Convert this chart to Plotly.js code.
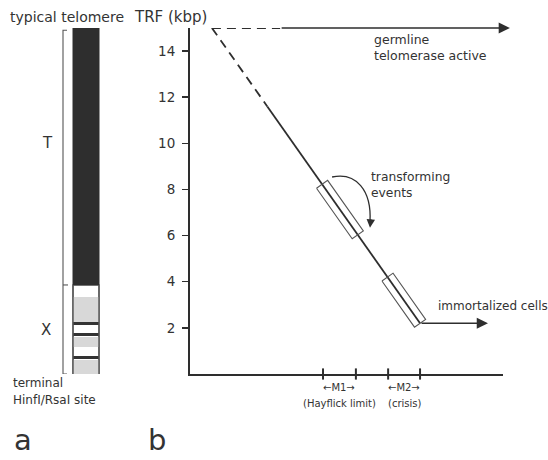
<!DOCTYPE html>
<html>
<head>
<meta charset="utf-8">
<script src="https://cdn.plot.ly/plotly-3.0.1.min.js"></script>
<style>html,body{margin:0;padding:0;background:#fff;}#chart{width:548px;height:460px;}</style>
</head>
<body>
<div id="chart"></div>
<script>
// ---------- data ----------
// panel b: TRF (kbp) vs. cell divisions (arbitrary units)
const yTicks = [2, 4, 6, 8, 10, 12, 14];
const germX = [7, 28.8, 102.2];          // dashed start, solid start, arrow tip
const germY = [15, 15, 15];
const senX = [7, 24.7, 73.5];            // dashed start, solid start, end at M2
const senY = [15, 11.6, 2.2];
const immX = [73.5, 95.2];
const immY = [2.2, 2.2];
const mTicks = [42.5, 53, 63.3, 73.5];   // M1 start/end, M2 start/end
const mLabels = ['\u2190M1\u2192', '\u2190M2\u2192'];
const mSubLabels = ['(Hayflick limit)', '(crisis)'];
const arcX = [45.4, 53.0, 58.1, 57.5];
const arcY = [8.54, 8.76, 7.98, 6.59];

// panel a: typical telomere (kbp)
const tRegion = [3.86, 15];
const xRegion = [0, 3.86];
const grayBandsLo = [2.25, 1.17, 0.0, 1.42, 0.05];
const grayBandsHi = [3.34, 1.60, 0.62, 1.55, 0.55];
const blackLinesLo = [2.12, 1.65, 0.65];
const blackLinesHi = [2.25, 1.78, 0.78];

// ---------- layout helpers ----------
const W = 548, H = 460;
const plotL = 190, plotR = 503, plotT = 28, plotB = 374;
const xRange = [0, 100], yRange = [0, 15];
const sx = (plotR - plotL) / (xRange[1] - xRange[0]);
const sy = (plotB - plotT) / (yRange[1] - yRange[0]);
const px = p => p / W, py = p => 1 - p / H;
const ink = '#2e2e2e', txt = '#333333';
const FONT = 'DejaVu Sans, Arial, sans-serif';

function yOnLine(x) {
  const t = (x - senX[0]) / (senX[2] - senX[0]);
  return senY[0] + t * (senY[2] - senY[0]);
}
function boxPoly(a, b, halfPx) {
  const ya = yOnLine(a), yb = yOnLine(b);
  const dx = (b - a) * sx, dy = -(yb - ya) * sy;
  const L = Math.hypot(dx, dy);
  const nx = -dy / L, ny = dx / L;
  const ox = nx * halfPx / sx, oy = -ny * halfPx / sy;
  return {
    x: [a + ox, b + ox, b - ox, a - ox, a + ox],
    y: [ya + oy, yb + oy, yb - oy, ya - oy, ya + oy]
  };
}

const traces = [];
// germline dashed part
traces.push({x: germX.slice(0, 2), y: germY.slice(0, 2), mode: 'lines', xaxis: 'x', yaxis: 'y',
  line: {color: ink, width: 1.8, dash: '9px,6px'}, hoverinfo: 'skip', cliponaxis: false});
// senescence dashed part
traces.push({x: senX.slice(0, 2), y: senY.slice(0, 2), mode: 'lines', xaxis: 'x', yaxis: 'y',
  line: {color: ink, width: 1.8, dash: '9px,6px'}, hoverinfo: 'skip', cliponaxis: false});
// senescence solid part
traces.push({x: senX.slice(1), y: senY.slice(1), mode: 'lines', xaxis: 'x', yaxis: 'y',
  line: {color: ink, width: 1.8}, hoverinfo: 'skip', cliponaxis: false});
// boxes M1, M2
[[mTicks[0] - 0.3, mTicks[1] + 0.6], [mTicks[2] - 0.2, mTicks[3]]].forEach(([a, b]) => {
  const p = boxPoly(a, b, 6.8);
  traces.push({x: p.x, y: p.y, mode: 'lines', xaxis: 'x', yaxis: 'y',
    line: {color: '#555', width: 1.1}, hoverinfo: 'skip', cliponaxis: false});
});
// x-axis tick marks at M boundaries
traces.push({x: mTicks, y: mTicks.map(() => 0), mode: 'markers', xaxis: 'x', yaxis: 'y',
  marker: {symbol: 'line-ns', size: 8, line: {color: ink, width: 2}}, hoverinfo: 'skip', cliponaxis: false});

// panel a bars (x2 in pixel-like units)
const barX = 86, barW = 26;
function addBars(lo, hi, color, lineColor, lw) {
  traces.push({type: 'bar', xaxis: 'x2', yaxis: 'y', x: lo.map(() => barX), base: lo,
    y: hi.map((h, i) => h - lo[i]), width: lo.map(() => barW),
    marker: {color: color, line: {color: lineColor, width: lw}}, hoverinfo: 'skip', showlegend: false});
}
addBars([xRegion[0]], [xRegion[1]], '#ffffff', '#555', 1.2);
addBars(grayBandsLo, grayBandsHi, '#d8d8d8', 'rgba(0,0,0,0)', 0);
addBars(blackLinesLo, blackLinesHi, '#333', 'rgba(0,0,0,0)', 0);
addBars([tRegion[0]], [tRegion[1]], '#2e2e2e', '#2e2e2e', 1);
// re-draw the X-region side outline
traces.push({x: [barX - barW / 2, barX - barW / 2, null, barX + barW / 2, barX + barW / 2],
  y: [xRegion[0], xRegion[1], null, xRegion[0], xRegion[1]], mode: 'lines', xaxis: 'x2', yaxis: 'y',
  line: {color: '#555', width: 1.4}, hoverinfo: 'skip', connectgaps: false});
// bracket
traces.push({x: [67, 63, 63, 67, null, 63, 68], y: [14.9, 14.9, 0, 0, null, tRegion[0], tRegion[0]],
  mode: 'lines', xaxis: 'x2', yaxis: 'y', line: {color: '#555', width: 1.1}, hoverinfo: 'skip', cliponaxis: false});

const ann = [];
function txtAnn(text, x, y, size, xanchor, extra) {
  ann.push(Object.assign({text: text, x: px(x), y: py(y), xref: 'paper', yref: 'paper', showarrow: false,
    xanchor: xanchor || 'left', yanchor: 'middle', font: {family: FONT, size: size, color: txt}}, extra || {}));
}
txtAnn('typical telomere', 8, 17, 14);
txtAnn('TRF (kbp)', 132, 17, 15);
txtAnn('germline', 372, 40, 12.5);
txtAnn('telomerase active', 372, 56, 12.5);
txtAnn('transforming', 369, 177, 12.3);
txtAnn('events', 369, 193, 12.3);
txtAnn('immortalized cells', 436, 306, 12);
txtAnn('T', 47, 143, 15, 'center');
txtAnn('X', 46, 330, 15, 'center');
txtAnn('terminal', 11, 383, 12);
txtAnn('HinfI/RsaI site', 11, 400, 12);
txtAnn('a', 23, 440, 29, 'center');
txtAnn('b', 157, 440, 29, 'center');
// M labels positioned under the tick intervals (data x)
[[0, 1], [2, 3]].forEach(([i, j], k) => {
  const cx = (mTicks[i] + mTicks[j]) / 2;
  ann.push({text: mLabels[k], x: cx, y: py(387), xref: 'x', yref: 'paper', showarrow: false,
    xanchor: 'center', yanchor: 'middle', font: {family: FONT, size: 10, color: txt}});
  ann.push({text: mSubLabels[k], x: cx, y: py(403), xref: 'x', yref: 'paper', showarrow: false,
    xanchor: 'center', yanchor: 'middle', font: {family: FONT, size: 10, color: txt}});
});
// arrows
ann.push({x: germX[2], y: germY[2], ax: germX[1], ay: germY[1], xref: 'x', yref: 'y', axref: 'x', ayref: 'y',
  showarrow: true, text: '', arrowhead: 2, arrowsize: 1.4, arrowwidth: 1.6, arrowcolor: ink});
ann.push({x: immX[1], y: immY[1], ax: immX[0], ay: immY[0], xref: 'x', yref: 'y', axref: 'x', ayref: 'y',
  showarrow: true, text: '', arrowhead: 2, arrowsize: 1.4, arrowwidth: 1.6, arrowcolor: ink});
ann.push({x: arcX[3], y: arcY[3] - 0.25, ax: 1, ay: -10, xref: 'x', yref: 'y',
  showarrow: true, text: '', arrowhead: 2, arrowsize: 1.3, arrowwidth: 1.3, arrowcolor: ink});

const shapes = [{type: 'path', xref: 'x', yref: 'y',
  path: `M ${arcX[0]},${arcY[0]} C ${arcX[1]},${arcY[1]} ${arcX[2]},${arcY[2]} ${arcX[3]},${arcY[3]}`,
  line: {color: ink, width: 1.3}}];

const layout = {
  width: W, height: H, margin: {l: 0, r: 0, t: 0, b: 0},
  paper_bgcolor: '#ffffff', plot_bgcolor: 'rgba(0,0,0,0)',
  showlegend: false, barmode: 'overlay', bargap: 0,
  font: {family: FONT, color: txt},
  xaxis: {domain: [px(plotL), px(plotR)], range: xRange, showgrid: false, zeroline: false,
    showline: true, linecolor: ink, linewidth: 2, ticks: '', showticklabels: false, fixedrange: true},
  yaxis: {domain: [py(plotB), py(plotT)], range: yRange, showgrid: false, zeroline: false,
    showline: true, linecolor: ink, linewidth: 2, ticks: 'outside', ticklen: 6, tickwidth: 1.5,
    tickcolor: ink, tickvals: yTicks, ticktext: yTicks.map(String), ticklabelstandoff: 4,
    tickfont: {family: FONT, size: 13.5, color: txt}, fixedrange: true},
  xaxis2: {domain: [0, px(186)], range: [0, 186], anchor: 'y', visible: false, fixedrange: true},
  annotations: ann, shapes: shapes
};

Plotly.newPlot('chart', traces, layout, {staticPlot: true, displayModeBar: false});
</script>
</body>
</html>
